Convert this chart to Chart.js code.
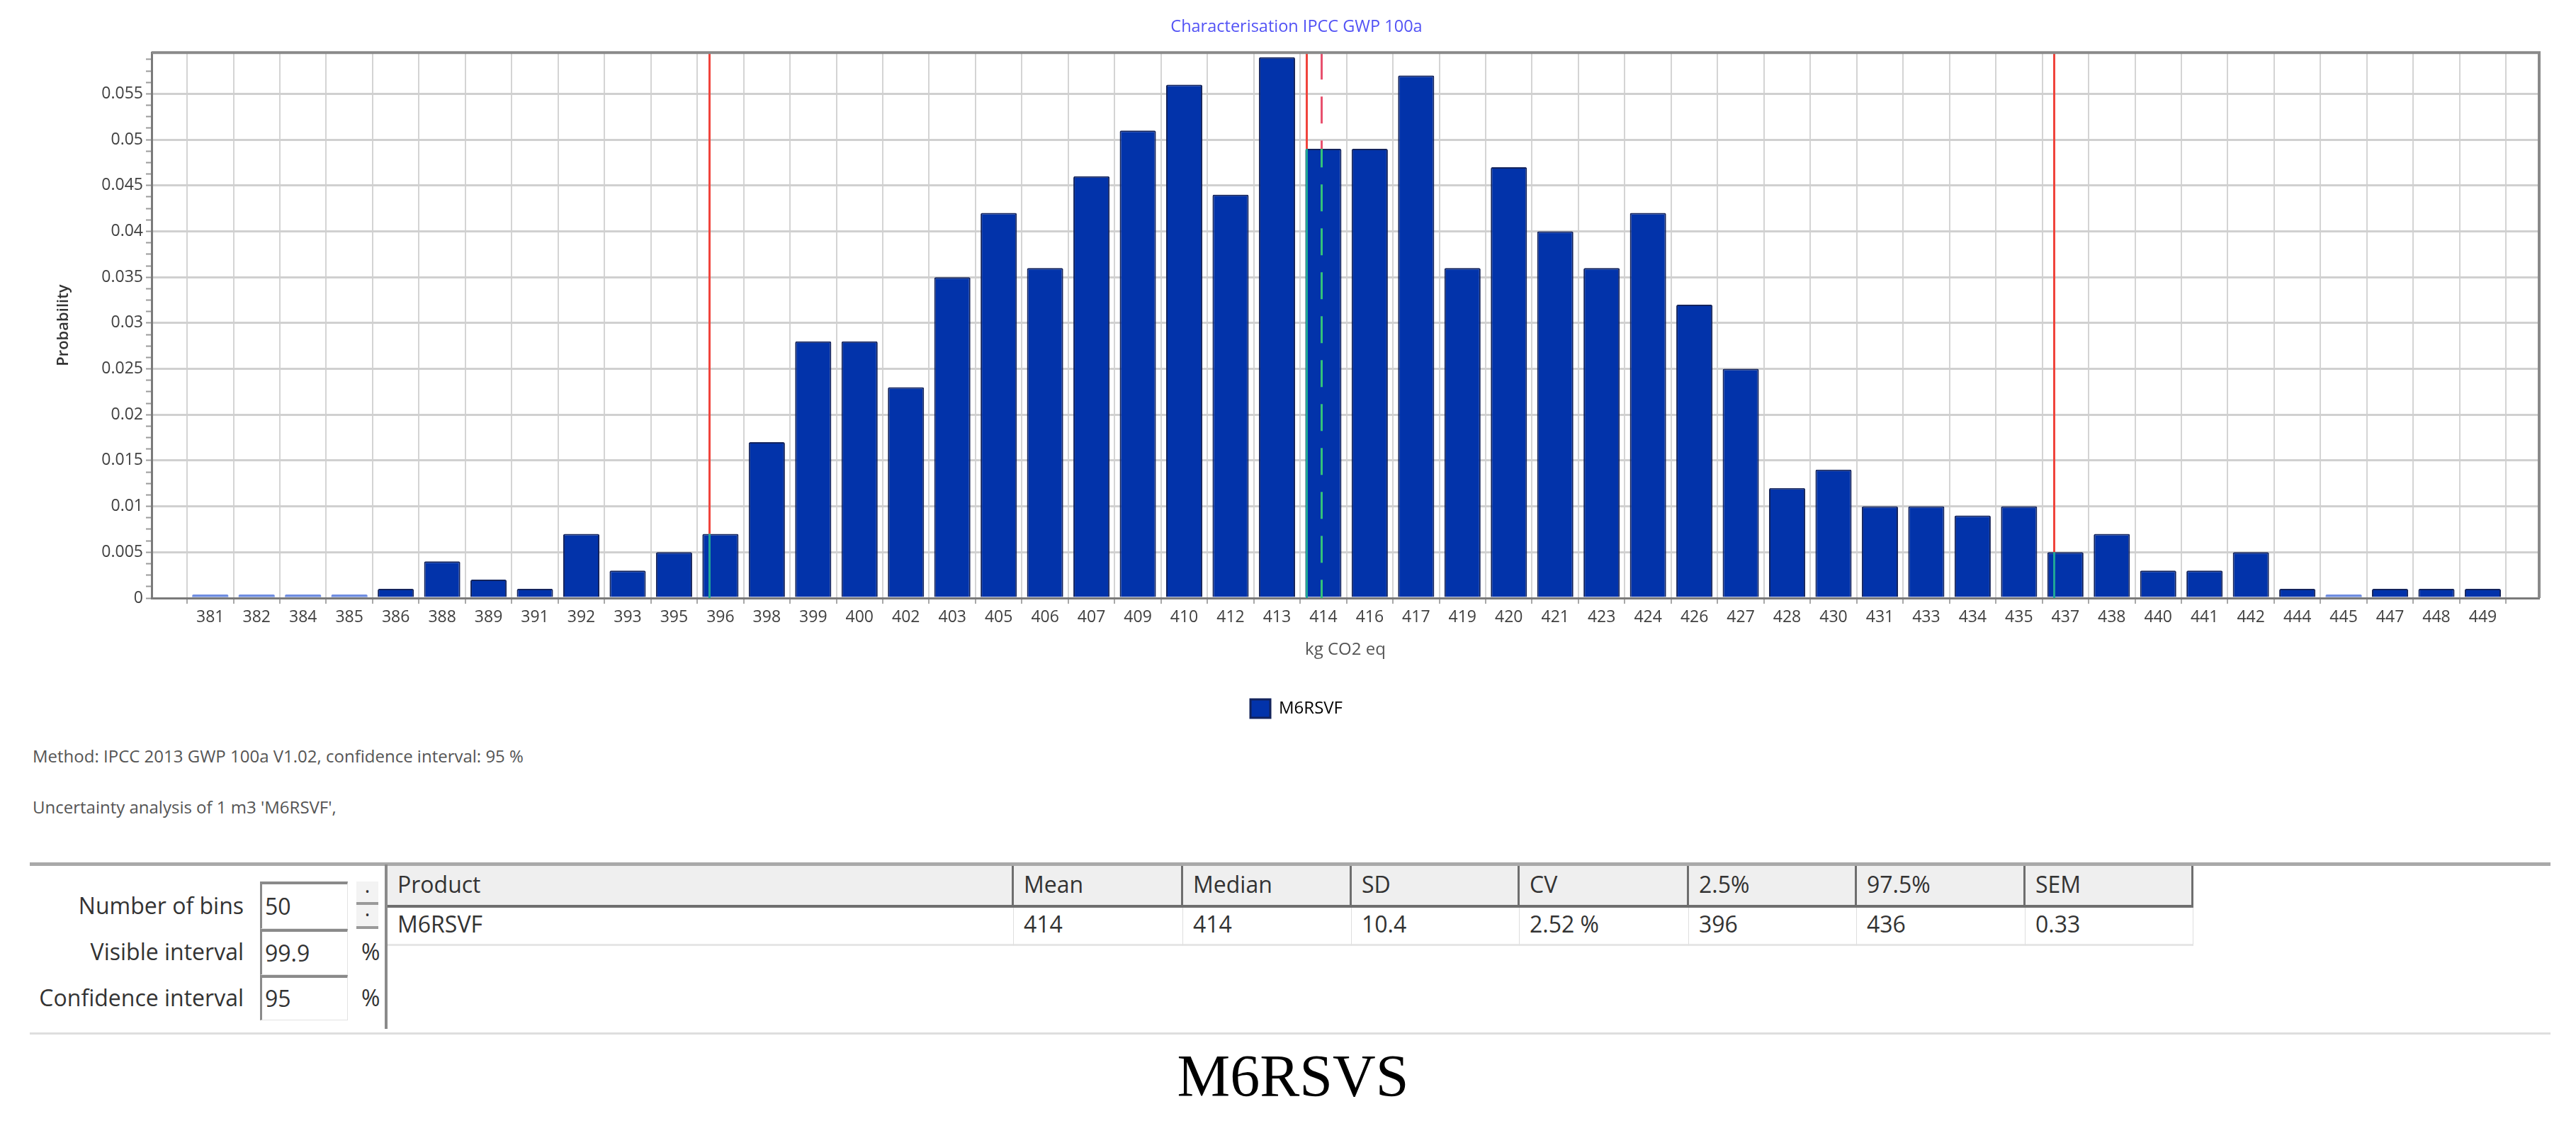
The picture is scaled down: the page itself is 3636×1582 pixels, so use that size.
<!DOCTYPE html>
<html>
<head>
<meta charset="utf-8">
<script src="https://cdn.jsdelivr.net/npm/chart.js@4.4.1/dist/chart.umd.min.js"></script>
<style>
    html, body { margin: 0; padding: 0; background: #fff; }
    body { width: 3636px; height: 1582px; position: relative; overflow: hidden; font-family: "Open Sans", sans-serif; }
    #chart { position: absolute; left: 0; top: 0; }
    .abs { position: absolute; white-space: nowrap; }
    .note { font-size: 24px; color: #555; line-height: 30px; }
    .lbl { left: 0; width: 344px; text-align: right; font-size: 32px; color: #333; line-height: 40px; }
    .box { background: #fff; border-top: 4px solid #8a8a8a; border-left: 3px solid #8a8a8a; border-right: 1px solid #e2e2e2; border-bottom: 1px solid #e2e2e2; box-sizing: border-box; font-size: 32px; color: #333; padding-left: 4px; }
    .spin { left: 503px; width: 31px; background: #f3f3f3; border-bottom: 4px solid #9a9a9a; box-sizing: border-box; text-align: center; font-size: 16px; color: #333; }
    .cell { box-sizing: border-box; font-size: 32px; color: #333; padding-left: 14px; }
    .head { background: #efefef; border-right: 3px solid #6e6e6e; border-bottom: 4px solid #6e6e6e; height: 59px; line-height: 52px; }
    .row { background: #fff; border-right: 1px solid #dedede; border-bottom: 3px solid #e6e6e6; height: 54px; line-height: 46px; }
</style>
</head>
<body>
<canvas id="chart" width="3636" height="1040"></canvas>

<div class="abs note" style="left:46px; top:1052px;">Method: IPCC 2013 GWP 100a V1.02, confidence interval: 95 %</div>
<div class="abs note" style="left:46px; top:1124px;">Uncertainty analysis of 1 m3 'M6RSVF',</div>

<div class="abs" style="left:42px; top:1217px; width:3558px; height:5px; background:#a9a9a9;"></div>
<div class="abs" style="left:42px; top:1457px; width:3558px; height:3px; background:#dedede;"></div>

<div id="panel"></div>

<div class="abs" style="left:1525px; top:1469px; width:600px; text-align:center; font-family:'Liberation Serif', serif; font-size:84px; line-height:100px; color:#000;">M6RSVS</div>

<script>
    // histogram bins (rounded bin centres, kg CO2 eq) and probability per bin
    const binLabels = ["381", "382", "384", "385", "386", "388", "389", "391", "392", "393",
        "395", "396", "398", "399", "400", "402", "403", "405", "406", "407",
        "409", "410", "412", "413", "414", "416", "417", "419", "420", "421",
        "423", "424", "426", "427", "428", "430", "431", "433", "434", "435",
        "437", "438", "440", "441", "442", "444", "445", "447", "448", "449"];
    const probability = [0, 0, 0, 0, 0.001, 0.004, 0.002, 0.001, 0.007, 0.003,
        0.005, 0.007, 0.017, 0.028, 0.028, 0.023, 0.035, 0.042, 0.036, 0.046,
        0.051, 0.056, 0.044, 0.059, 0.049, 0.049, 0.057, 0.036, 0.047, 0.040,
        0.036, 0.042, 0.032, 0.025, 0.012, 0.014, 0.010, 0.010, 0.009, 0.010,
        0.005, 0.007, 0.003, 0.003, 0.005, 0.001, 0, 0.001, 0.001, 0.001];
    const yTickLabels = ["0", "0.005", "0.01", "0.015", "0.02", "0.025", "0.03", "0.035", "0.04", "0.045", "0.05", "0.055"];

    // unrounded bin geometry, used to place the statistic markers
    const binFirstCentre = 380.95;
    const binWidth = 1.38;

    // 2.5 %, mean, median, 97.5 %
    const markerValues = [395.8, 413.56, 414.0, 435.8];
    const markerDashed = [false, false, true, false];

    // table under the chart
    const statHeaders = ["Product", "Mean", "Median", "SD", "CV", "2.5%", "97.5%", "SEM"];
    const statRow = ["M6RSVF", "414", "414", "10.4", "2.52 %", "396", "436", "0.33"];
    const settingLabels = ["Number of bins", "Visible interval", "Confidence interval"];
    const settingValues = ["50", "99.9", "95"];

    const BAR_FILL = "#0233aa";
    const BAR_EDGE = "#13235c";
    const EMPTY_FILL = "#6f8de0";

    Chart.defaults.font.family = "'Open Sans', sans-serif";

    const framePlugin = {
        id: "frame",
        afterDraw(chart) {
            const { ctx, chartArea: a } = chart;
            ctx.save();
            ctx.strokeStyle = "#8a8a8a";
            ctx.lineWidth = 4;
            ctx.beginPath();
            ctx.moveTo(a.left, a.top);
            ctx.lineTo(a.right, a.top);
            ctx.lineTo(a.right, a.bottom);
            ctx.stroke();
            ctx.restore();
        },
    };

    const markerPlugin = {
        id: "markers",
        afterDatasetsDraw(chart) {
            const { ctx, chartArea: a } = chart;
            const xs = chart.scales.x;
            const bars = chart.getDatasetMeta(0).data;
            markerValues.forEach((v, k) => {
                const x = Math.round(xs.getPixelForValue((v - binFirstCentre) / binWidth)) + 0.5;
                const bar = bars.find((el) => Math.abs(el.x - x) <= el.width / 2);
                const barTop = bar ? bar.y : a.bottom;
                const dash = markerDashed[k] ? [38, 24] : [];
                ctx.save();
                ctx.lineWidth = 3;
                ctx.setLineDash(dash);
                ctx.strokeStyle = markerDashed[k] ? "#e8506e" : "#f0443c";
                ctx.beginPath();
                ctx.moveTo(x, a.top);
                ctx.lineTo(x, barTop);
                ctx.stroke();
                ctx.strokeStyle = markerDashed[k] ? "#33c27a" : "#1fa596";
                ctx.lineDashOffset = barTop - a.top;
                ctx.beginPath();
                ctx.moveTo(x, barTop);
                ctx.lineTo(x, a.bottom);
                ctx.stroke();
                ctx.restore();
            });
        },
    };

    function setupChart() {
        const points = probability.map((p, i) => ({ x: i, y: p }));
        const yMajor = yTickLabels.map(Number);

        new Chart(document.getElementById("chart"), {
            type: "bar",
            data: {
                datasets: [{
                    label: "M6RSVF",
                    data: points,
                    backgroundColor: (c) => (c.raw && c.raw.y === 0 ? EMPTY_FILL : BAR_FILL),
                    borderColor: (c) => (c.raw && c.raw.y === 0 ? "rgba(0,0,0,0)" : BAR_EDGE),
                    borderWidth: (c) => (c.raw && c.raw.y === 0 ? 0 : 2),
                    borderRadius: 2,
                    minBarLength: 5,
                    categoryPercentage: 1,
                    barPercentage: 0.78,
                }],
            },
            options: {
                responsive: false,
                animation: false,
                layout: { padding: { left: 76, right: 52, top: 0, bottom: 17 } },
                plugins: {
                    title: {
                        display: true,
                        text: "Characterisation IPCC GWP 100a",
                        color: "#5252f5",
                        font: { size: 23.5, weight: "normal" },
                        padding: { top: 24, bottom: 22 },
                    },
                    legend: {
                        position: "bottom",
                        labels: {
                            boxWidth: 28,
                            boxHeight: 26,
                            padding: 10,
                            color: "#8a8a8a",
                            font: { size: 24 },
                            generateLabels: () => [{
                                text: "M6RSVF",
                                fillStyle: BAR_FILL,
                                strokeStyle: BAR_EDGE,
                                lineWidth: 3,
                                datasetIndex: 0,
                            }],
                        },
                    },
                    tooltip: { enabled: false },
                },
                scales: {
                    x: {
                        type: "linear",
                        min: -0.75,
                        max: 49.7,
                        afterBuildTicks: (s) => { s.ticks = binLabels.map((_, i) => ({ value: i })); },
                        afterFit: (s) => { s.height = 133; },
                        ticks: {
                            autoSkip: false,
                            maxRotation: 0,
                            padding: 6,
                            color: "#404040",
                            font: { size: 23 },
                            callback: (v) => binLabels[v],
                        },
                        grid: { color: "#d4d4d4", lineWidth: 2, tickLength: 8, tickColor: "#a8a8a8", tickWidth: 2 },
                        border: { color: "#7a7a7a", width: 3 },
                        title: {
                            display: true,
                            text: "kg CO2 eq",
                            color: "#555",
                            font: { size: 24 },
                            padding: { top: 0, bottom: 45.6 },
                        },
                    },
                    y: {
                        min: 0,
                        max: 0.0595,
                        afterBuildTicks: (s) => {
                            const ticks = [];
                            const step = (yMajor[1] - yMajor[0]) / 4;
                            for (let i = 0; i * step <= s.max; i += 1) {
                                ticks.push({ value: i * step, major: i % 4 === 0, label: yTickLabels[i / 4] });
                            }
                            s.ticks = ticks;
                        },
                        afterFit: (s) => { s.width = 138; },
                        ticks: {
                            autoSkip: false,
                            padding: 4,
                            color: "#404040",
                            font: { size: 23 },
                            callback: (v, i, t) => (t[i].major ? t[i].label : ""),
                        },
                        grid: {
                            color: (c) => (c.tick && c.tick.major ? "#d0d0d0" : "rgba(0,0,0,0)"),
                            lineWidth: 3,
                            tickLength: 8,
                            tickColor: "#9a9a9a",
                            tickWidth: 2,
                        },
                        border: { color: "#7a7a7a", width: 3 },
                        title: {
                            display: true,
                            text: "Probability",
                            color: "#333",
                            font: { size: 22, weight: "600" },
                            padding: { top: 1, bottom: 0 },
                        },
                    },
                },
            },
            plugins: [framePlugin, markerPlugin],
        });
    }

    function addDiv(cls, style, text) {
        const d = document.createElement("div");
        d.className = "abs " + cls;
        d.setAttribute("style", style);
        if (text !== undefined) d.textContent = text;
        document.getElementById("panel").appendChild(d);
        return d;
    }

    function buildPanel() {
        const labelTops = [1258, 1323, 1388];
        const boxTops = [1244, 1311, 1376];
        const boxHeights = [67, 65, 64];
        settingLabels.forEach((t, i) => {
            addDiv("lbl", `top:${labelTops[i]}px;`, t);
            addDiv("box", `left:367px; top:${boxTops[i]}px; width:124px; height:${boxHeights[i]}px; line-height:${boxHeights[i] - 6}px;`, settingValues[i]);
        });
        addDiv("spin", "top:1244px; height:33px; line-height:28px;", "•");
        addDiv("spin", "top:1277px; height:34px; line-height:28px;", "•");
        addDiv("", "left:510px; top:1323px; font-size:32px; line-height:40px; color:#333;", "%");
        addDiv("", "left:510px; top:1388px; font-size:32px; line-height:40px; color:#333;", "%");

        // table frame
        addDiv("", "left:543px; top:1220px; width:4px; height:232px; background:#8a8a8a;");
        const edges = [547, 1431, 1670, 1908, 2145, 2384, 2621, 2859, 3096];
        statHeaders.forEach((h, i) => {
            const w = edges[i + 1] - edges[i];
            addDiv("cell head", `left:${edges[i]}px; top:1222px; width:${w}px;`, h);
            addDiv("cell row", `left:${edges[i]}px; top:1281px; width:${w}px;`, statRow[i]);
        });
    }

    setupChart();
    buildPanel();
</script>
</body>
</html>
